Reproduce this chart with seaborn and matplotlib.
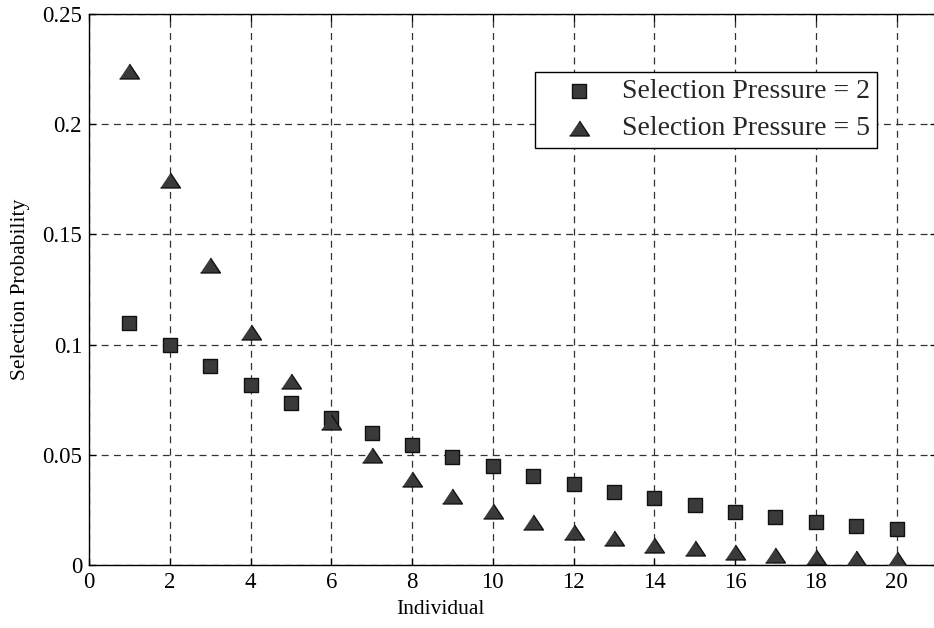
import matplotlib
matplotlib.use("Agg")
import matplotlib.pyplot as plt
import seaborn as sns
import pandas as pd

# Rank-based selection probabilities for a population of 20 individuals
individual = list(range(1, 21))
prob_sp2 = [0.1100, 0.1000, 0.0905, 0.0817, 0.0735, 0.0667, 0.0601, 0.0544,
            0.0491, 0.0447, 0.0405, 0.0367, 0.0333, 0.0304, 0.0273, 0.0242,
            0.0220, 0.0197, 0.0177, 0.0162]
prob_sp5 = [0.2242, 0.1749, 0.1361, 0.1059, 0.0833, 0.0648, 0.0501, 0.0392,
            0.0313, 0.0245, 0.0195, 0.0149, 0.0121, 0.0091, 0.0076, 0.0061,
            0.0046, 0.0038, 0.0031, 0.0025]
labels = ["Selection Pressure = 2", "Selection Pressure = 5"]
x_ticks = list(range(0, 21, 2))
y_ticks = [0, 0.05, 0.1, 0.15, 0.2, 0.25]
y_tick_labels = ["0", "0.05", "0.1", "0.15", "0.2", "0.25"]

df2 = pd.DataFrame({"Individual": individual, "Probability": prob_sp2})
df5 = pd.DataFrame({"Individual": individual, "Probability": prob_sp5})

sns.set_theme(style="white")
plt.rcParams["font.family"] = ["Liberation Serif", "DejaVu Serif"]
plt.rcParams["lines.scale_dashes"] = False

fig = plt.figure(figsize=(9.34, 6.28), dpi=100)
ax = fig.add_axes([89 / 934, 1 - 565 / 628, 848 / 934, 551 / 628])

face = "#3a3a3a"
edge = "#111111"
tri = [(-1.0, -0.75), (1.0, -0.75), (0.0, 0.75)]

sns.scatterplot(data=df2, x="Individual", y="Probability", marker="s", s=88,
                color=face, edgecolor=edge, linewidth=1.0, label=labels[0],
                ax=ax, zorder=3)
sns.scatterplot(data=df5, x="Individual", y="Probability", marker=tri, s=205,
                color=face, edgecolor=edge, linewidth=1.0, label=labels[1],
                ax=ax, zorder=3)

ax.set_xlim(0, 21)
ax.set_ylim(0, 0.25)
ax.set_xticks(x_ticks)
ax.set_yticks(y_ticks)
ax.set_yticklabels(y_tick_labels)

ax.grid(True, color="#333333", linestyle=(0, (5, 3.8)), linewidth=0.9)
ax.set_axisbelow(True)

for sp in ax.spines.values():
    sp.set_color("black")
    sp.set_linewidth(1.0)
    sp.set_visible(True)

ax.tick_params(axis="both", which="both", direction="in", length=5, width=0.9,
               colors="black", labelsize=16.5, top=True, right=True,
               bottom=True, left=True)
ax.tick_params(axis="x", pad=5)
ax.tick_params(axis="y", pad=5)

ax.set_xlabel("Individual", fontsize=15.5, color="black")
ax.set_ylabel("Selection Probability", fontsize=15.5, color="black")
ax.xaxis.set_label_coords((440 - 89) / 848, -0.063)
ax.yaxis.set_label_coords(-0.070, 0.5)

leg = ax.legend(loc="upper right", bbox_to_anchor=(877 / 934, 1 - 72 / 628),
                bbox_transform=fig.transFigure, borderaxespad=0,
                fancybox=False, framealpha=1, edgecolor="black",
                fontsize=20, handletextpad=0.22, borderpad=0.25,
                labelspacing=0.4, handlelength=2.66)
leg.get_frame().set_linewidth(1.0)

fig.savefig("out.png", dpi=100, facecolor="white")
